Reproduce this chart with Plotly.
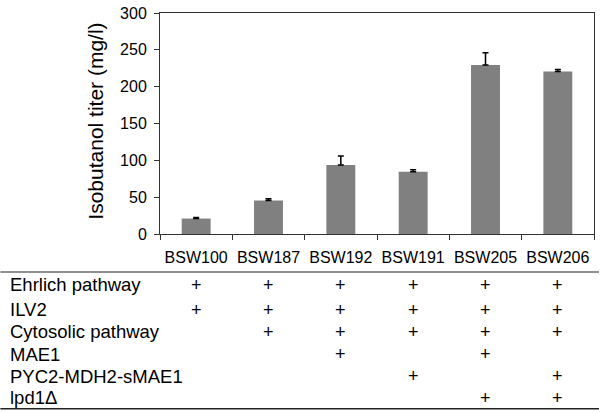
import plotly.graph_objects as go

strains = ["BSW100", "BSW187", "BSW192", "BSW191", "BSW205", "BSW206"]
titer = [21, 45.5, 93.5, 84.5, 229.5, 220.5]
err_plus = [1.3, 2.2, 12.4, 2.7, 16.4, 2.7]

rows = ["Ehrlich pathway", "ILV2", "Cytosolic pathway", "MAE1",
        "PYC2-MDH2-sMAE1", "lpd1\u0394"]
marks = [
    [1, 1, 1, 1, 1, 1],
    [1, 1, 1, 1, 1, 1],
    [0, 1, 1, 1, 1, 1],
    [0, 0, 1, 0, 1, 0],
    [0, 0, 0, 1, 0, 1],
    [0, 0, 0, 0, 1, 1],
]
yticks = [0, 50, 100, 150, 200, 250, 300]

FONT = "Liberation Sans, Arial, sans-serif"
W, H = 600, 413
ML, MR, MT, MB = 160, 5, 10, 179
pw = W - ML - MR
ph = H - MT - MB

def px_to_py(py):
    return (H - MB - py) / ph

def px_to_px(px):
    return (px - ML) / pw

fig = go.Figure()
fig.add_trace(go.Bar(
    x=strains, y=titer, width=0.4,
    marker=dict(color="#808080", line=dict(width=0)),
    error_y=dict(type="data", array=err_plus, arrayminus=[0] * len(err_plus),
                 symmetric=False, color="black", thickness=1.5, width=3),
))

annotations = [dict(
    text="Isobutanol titer (mg/l)", textangle=-90,
    x=px_to_px(95), y=px_to_py(120), xref="paper", yref="paper",
    showarrow=False, font=dict(family=FONT, size=21, color="black"),
    xanchor="center", yanchor="middle",
)]

row_y = [285.5, 311, 333, 356, 378, 400]
for r, label in enumerate(rows):
    annotations.append(dict(
        text=label, x=px_to_px(8), y=px_to_py(row_y[r]), xref="paper", yref="paper",
        showarrow=False, xanchor="left", yanchor="middle",
        font=dict(family=FONT, size=18.5, color="black"),
    ))
    for c, s in enumerate(strains):
        if marks[r][c]:
            annotations.append(dict(
                text="+", x=s, y=px_to_py(row_y[r]), xref="x", yref="paper",
                showarrow=False, xanchor="center", yanchor="middle",
                font=dict(family=FONT, size=18, color="black"),
            ))

shapes = [
    dict(type="line", xref="paper", yref="paper",
         x0=px_to_px(0), x1=px_to_px(W), y0=px_to_py(272.5), y1=px_to_py(272.5),
         line=dict(color="#222222", width=1.2)),
    dict(type="line", xref="paper", yref="paper",
         x0=px_to_px(0), x1=px_to_px(W), y0=px_to_py(411), y1=px_to_py(411),
         line=dict(color="#222222", width=1.5)),
]

fig.update_layout(
    width=W, height=H,
    margin=dict(l=ML, r=MR, t=MT, b=MB),
    paper_bgcolor="white", plot_bgcolor="white",
    showlegend=False,
    font=dict(family=FONT, color="black"),
    annotations=annotations, shapes=shapes,
    xaxis=dict(
        type="category", range=[-0.5, 5.5],
        showline=True, linecolor="#333333", linewidth=1, mirror=True,
        ticks="outside", tickson="boundaries", ticklen=5, tickcolor="#333333",
        tickfont=dict(family=FONT, size=16, color="black"),
        ticklabelstandoff=9,
        showgrid=False, zeroline=False,
    ),
    yaxis=dict(
        range=[0, 300], tickvals=yticks,
        showline=True, linecolor="#333333", linewidth=1, mirror=True,
        ticks="outside", ticklen=5, tickcolor="#333333",
        tickfont=dict(family=FONT, size=16, color="black"),
        ticklabelstandoff=4,
        showgrid=False, zeroline=False,
    ),
)

fig.write_html("out.html", config={"displayModeBar": False},
               post_script="document.body.style.margin='0';document.body.style.overflow='hidden';")
